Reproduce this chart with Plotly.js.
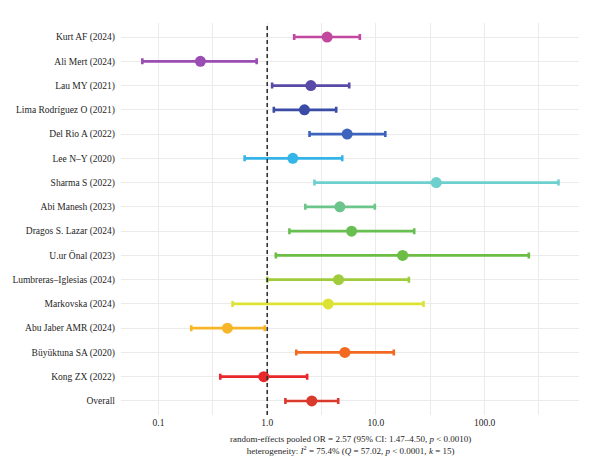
<!DOCTYPE html>
<html>
<head>
<meta charset="utf-8">
<script src="https://cdn.plot.ly/plotly-3.0.1.min.js"></script>
<style>
  html, body { margin: 0; padding: 0; background: #ffffff; }
  #chart { width: 600px; height: 476px; }
</style>
</head>
<body>
<div id="chart"></div>
<script>
// Study labels, top to bottom
const studies = [
  "Kurt AF (2024)", "Ali Mert (2024)", "Lau MY (2021)", "Lima Rodríguez O (2021)",
  "Del Rio A (2022)", "Lee N–Y (2020)", "Sharma S (2022)", "Abi Manesh (2023)",
  "Dragos S. Lazar (2024)", "U.ur Önal (2023)", "Lumbreras–Iglesias (2024)",
  "Markovska (2024)", "Abu Jaber AMR (2024)", "Büyüktuna SA (2020)", "Kong ZX (2022)",
  "Overall"
];

// Odds ratios and 95% confidence limits
const oddsRatio = [3.56, 0.243, 2.52, 2.20, 5.44, 1.72, 35.9, 4.66, 5.97, 17.6, 4.53, 3.64, 0.43, 5.18, 0.93, 2.57];
const ciLower   = [1.77, 0.071, 1.11, 1.15, 2.45, 0.62, 2.72, 2.24, 1.60, 1.20, 1.00, 0.48, 0.20, 1.85, 0.37, 1.47];
const ciUpper   = [7.11, 0.80, 5.68, 4.31, 12.2, 4.90, 478, 9.77, 22.5, 255, 20.1, 27.4, 0.95, 14.6, 2.33, 4.50];

// One colour per row
const rowColors = [
  "#c2479f", "#9a4db3", "#5a4aa8", "#3a4ca5", "#3d63bd", "#35b4e8", "#6ecfcf", "#6cc58a",
  "#67bf52", "#6bbd43", "#a0cc3b", "#dde335", "#f7b628", "#f26a21", "#e8272b", "#d93a2b"
];

// Axis ticks
const xTickVals = [0.1, 1, 10, 100];
const xTickText = ["0.1", "1.0", "10.0", "100.0"];
const xMinorVals = [0.316, 3.16, 31.6, 316];

const serif = "Liberation Serif";
const ink = "#1e1e1e";

const traces = studies.map((name, i) => ({
  type: "scatter",
  mode: "markers",
  x: [oddsRatio[i]],
  y: [name],
  marker: { color: rowColors[i], size: 11 },
  error_x: {
    type: "data",
    symmetric: false,
    array: [ciUpper[i] - oddsRatio[i]],
    arrayminus: [oddsRatio[i] - ciLower[i]],
    color: rowColors[i],
    thickness: 2.6,
    width: 3
  },
  showlegend: false,
  hoverinfo: "x+y"
}));

const layout = {
  width: 600,
  height: 476,
  margin: { l: 121, r: 21, t: 23, b: 61 },
  paper_bgcolor: "#ffffff",
  plot_bgcolor: "#ffffff",
  font: { family: serif, size: 9.5, color: ink },
  xaxis: {
    type: "log",
    range: [-1.345, 2.868],
    tickvals: xTickVals,
    ticktext: xTickText,
    ticks: "",
    showline: false,
    zeroline: false,
    showgrid: true,
    gridcolor: "#ebebeb",
    gridwidth: 1,
    minor: { tickvals: xMinorVals, showgrid: true, gridcolor: "#ebebeb", gridwidth: 1, ticks: "" },
    tickfont: { family: serif, size: 9.5, color: ink }
  },
  yaxis: {
    type: "category",
    categoryorder: "array",
    categoryarray: studies,
    range: [15.58, -0.58],
    ticks: "",
    showline: false,
    zeroline: false,
    showgrid: true,
    gridcolor: "#ebebeb",
    gridwidth: 1,
    ticklabelstandoff: 5,
    tickfont: { family: serif, size: 9.5, color: ink }
  },
  shapes: [{
    type: "line",
    xref: "x", yref: "paper",
    x0: 1, x1: 1, y0: 0, y1: 1,
    line: { color: "#333333", width: 1.6, dash: "4px,3px" },
    layer: "above"
  }],
  annotations: [
    {
      xref: "paper", yref: "paper", x: 0.5, y: -0.043,
      xanchor: "center", yanchor: "top", showarrow: false,
      align: "center",
      font: { family: serif, size: 9, color: ink },
      text: "random-effects pooled OR = 2.57 (95% CI: 1.47–4.50, <i>p</i> < 0.0010)<br>" +
            "heterogeneity: <i>I</i><sup>2</sup> = 75.4% (<i>Q</i> = 57.02, <i>p</i> < 0.0001, <i>k</i> = 15)"
    }
  ]
};

Plotly.newPlot("chart", traces, layout, { displayModeBar: false, staticPlot: true });
</script>
</body>
</html>
